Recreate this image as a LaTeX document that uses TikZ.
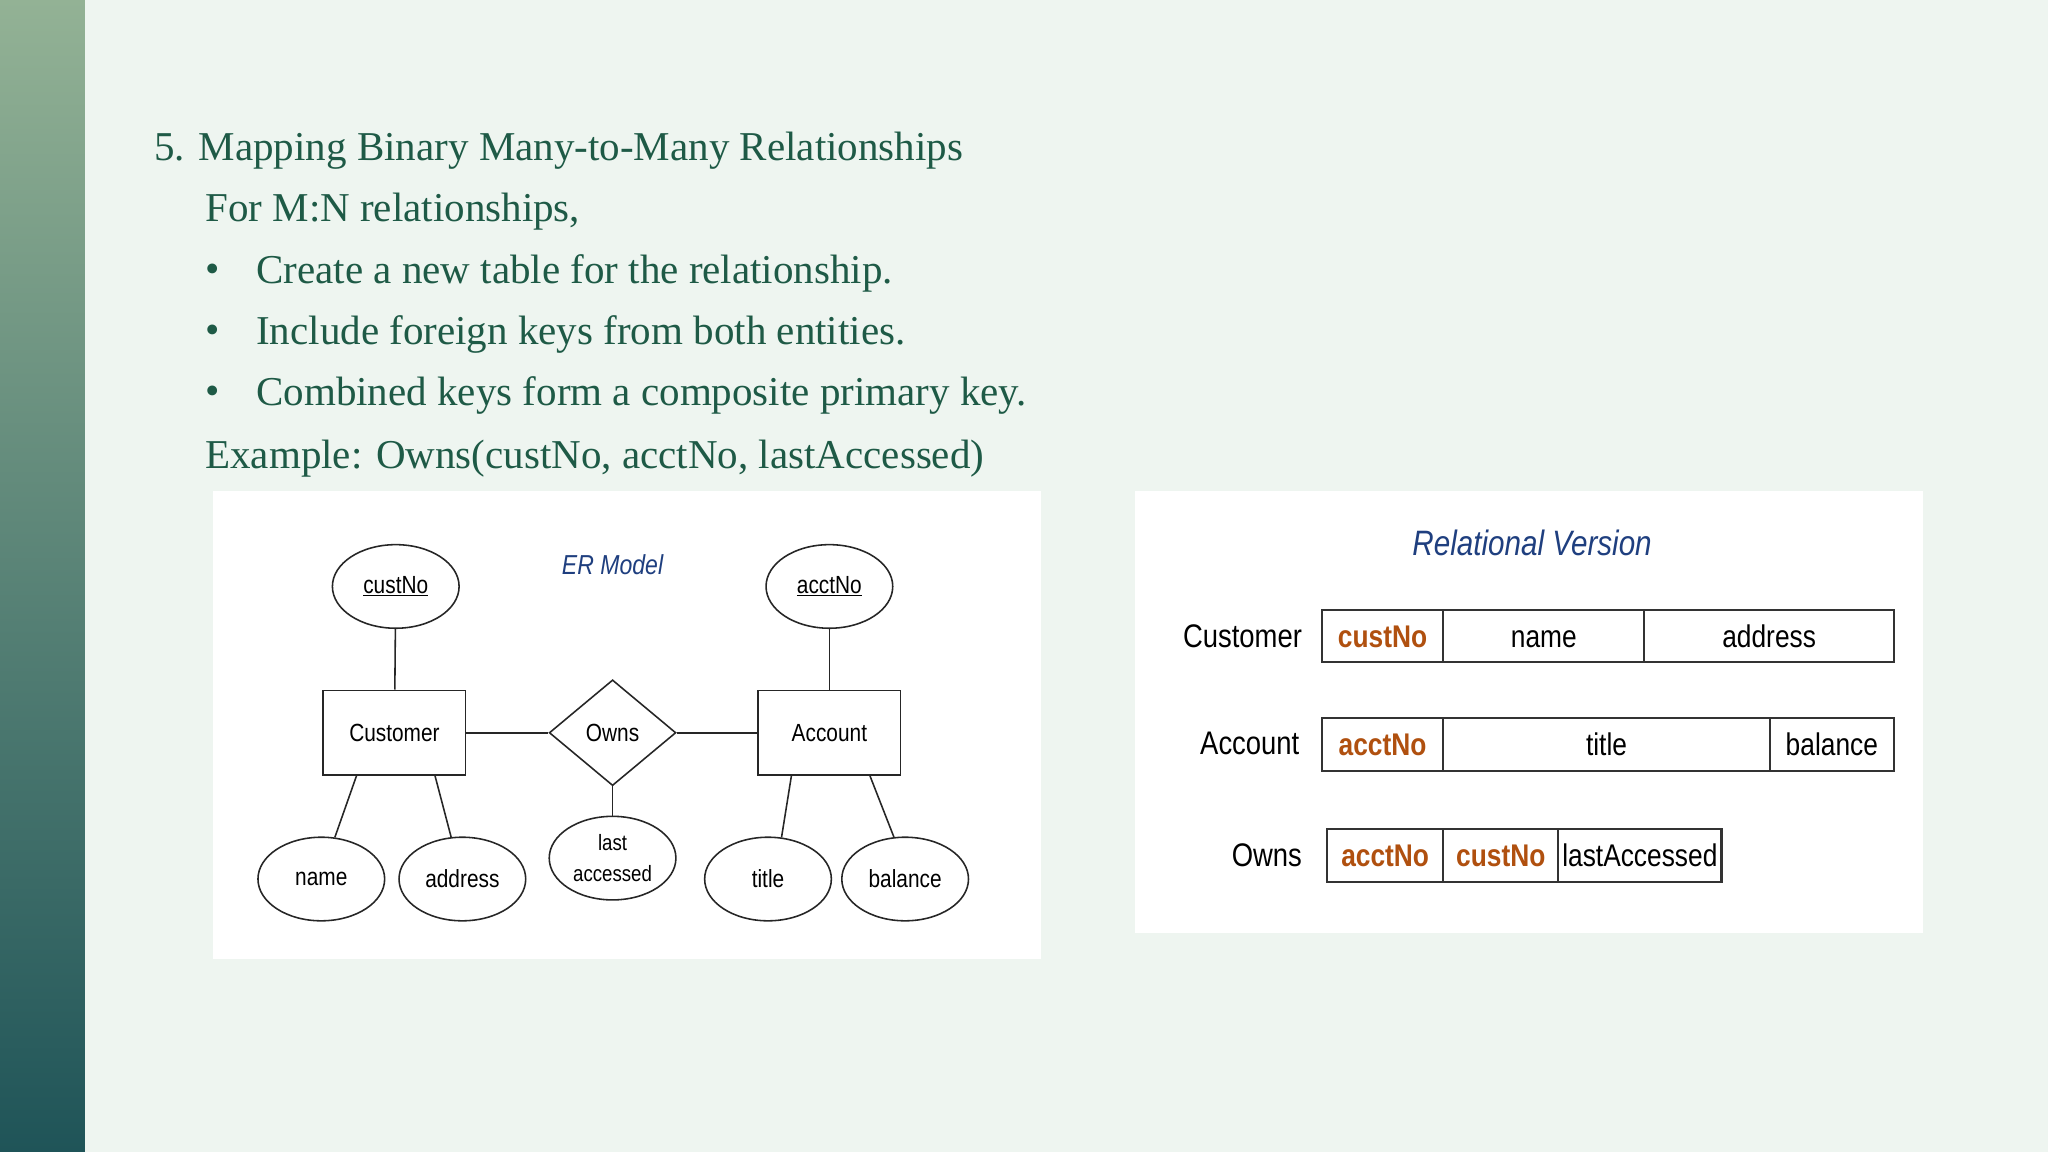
\documentclass[tikz,border=0pt]{standalone}
\usepackage{fontspec}
\setmainfont{Liberation Serif}
\newfontfamily\sansf[FakeStretch=0.84]{Liberation Sans}
\usetikzlibrary{shapes.geometric}
\definecolor{bg}{HTML}{EEF5F0}
\definecolor{txt}{HTML}{1E5A46}
\definecolor{erblue}{HTML}{1F3F7F}
\definecolor{keyor}{HTML}{B0500F}
\definecolor{bartop}{HTML}{93B295}
\definecolor{barbot}{HTML}{1F5458}
\begin{document}
\begin{tikzpicture}[x=1pt,y=-1pt,
  body/.style={anchor=west,text=txt,font=\fontsize{31.4}{34}\selectfont,inner sep=0},
  ent/.style={draw=black!85,line width=1.2pt,minimum width=109,minimum height=65,font=\sansf\fontsize{19}{21}\selectfont,inner sep=0},
  att/.style={ellipse,draw=black!85,line width=1.2pt,minimum width=97,minimum height=64,font=\sansf\fontsize{19}{21}\selectfont,inner sep=0,align=center},
  ln/.style={line width=1.2pt,black!85},
  cell/.style={draw=black!80,line width=1.6pt,minimum height=40,inner sep=0,text height=18,text depth=1,font=\sansf\fontsize{24}{26}\selectfont},
  key/.style={cell,text=keyor,font=\sansf\bfseries\fontsize{24}{26}\selectfont},
  rl/.style={anchor=east,font=\sansf\fontsize{25}{27}\selectfont,inner sep=0}]
\useasboundingbox (0,0) rectangle (1568,882);
\fill[bg] (0,0) rectangle (1568,882);
\shade[top color=bartop,bottom color=barbot] (0,0) rectangle (65,882);
% text
\node[body] (t1) at (118,115) {5. Mapping Binary Many-to-Many Relationships};
\node[body] (t2) at (157,162) {For M:N relationships,};
\node[body] (b1) at (157,209) {•};
\node[body] (t3) at (196,209) {Create a new table for the relationship.};
\node[body] (b2) at (157,256) {•};
\node[body] (t4) at (196,256) {Include foreign keys from both entities.};
\node[body] (b3) at (157,303) {•};
\node[body] (t5) at (196,303) {Combined keys form a composite primary key.};
\node[body] (t6) at (157,351) {Example: Owns(custNo, acctNo, lastAccessed)};
% ER panel
\fill[white] (163,376) rectangle (797,734);
\node[font=\sansf\itshape\fontsize{21}{23}\selectfont,text=erblue] (erm) at (469,432) {ER Model};
\node[att] (custNo) at (303,449) {\underline{custNo}};
\node[att] (acctNo) at (635,449) {\underline{acctNo}};
\node[ent] (cust) at (302,561) {Customer};
\node[ent] (acct) at (635,561) {Account};
\node[diamond,draw=black!85,line width=1.2pt,minimum width=97,minimum height=81,inner sep=0,font=\sansf\fontsize{19}{21}\selectfont] (owns) at (469,561) {Owns};
\node[att] (name) at (246,673) {name};
\node[att] (addr) at (354,673) {address};
\node[att,font=\sansf\fontsize{17}{24}\selectfont] (last) at (469,657) {last\\accessed};
\node[att] (title) at (588,673) {title};
\node[att] (bal) at (693,673) {balance};
\draw[ln] (custNo) -- (cust);
\draw[ln] (acctNo) -- (acct);
\draw[ln] (cust) -- (owns);
\draw[ln] (owns) -- (acct);
\draw[ln] (owns) -- (last);
\coordinate (c1) at ([xshift=26]cust.south west);
\coordinate (c2) at ([xshift=-24]cust.south east);
\coordinate (c3) at ([xshift=26]acct.south west);
\coordinate (c4) at ([xshift=-24]acct.south east);
\draw[ln] (c1) -- (name.72);
\draw[ln] (c2) -- (addr.105);
\draw[ln] (c3) -- (title.72);
\draw[ln] (c4) -- (bal.105);
% Relational panel
\fill[white] (869,376) rectangle (1472,714);
\node[font=\sansf\itshape\fontsize{27}{29}\selectfont,text=erblue] (rv) at (1173,416) {Relational Version};
\node[rl] (lc) at (997,487) {Customer};
\node[key,minimum width=93] (c_k) at (1058.5,487) {custNo};
\node[cell,minimum width=154] (c_n) at (1182,487) {name};
\node[cell,minimum width=191] (c_a) at (1354.5,487) {address};
\node[rl] (la) at (995,569) {Account};
\node[key,minimum width=93] (a_k) at (1058.5,570) {acctNo};
\node[cell,minimum width=250] (a_t) at (1230,570) {title};
\node[cell,minimum width=95] (a_b) at (1402.5,570) {balance};
\node[rl] (lo) at (997,655) {Owns};
\node[key,minimum width=89] (o_a) at (1060.5,655) {acctNo};
\node[key,minimum width=88] (o_c) at (1149,655) {custNo};
\node[cell,minimum width=125] (o_l) at (1255.5,655) {lastAccessed};
\end{tikzpicture}
\end{document}
